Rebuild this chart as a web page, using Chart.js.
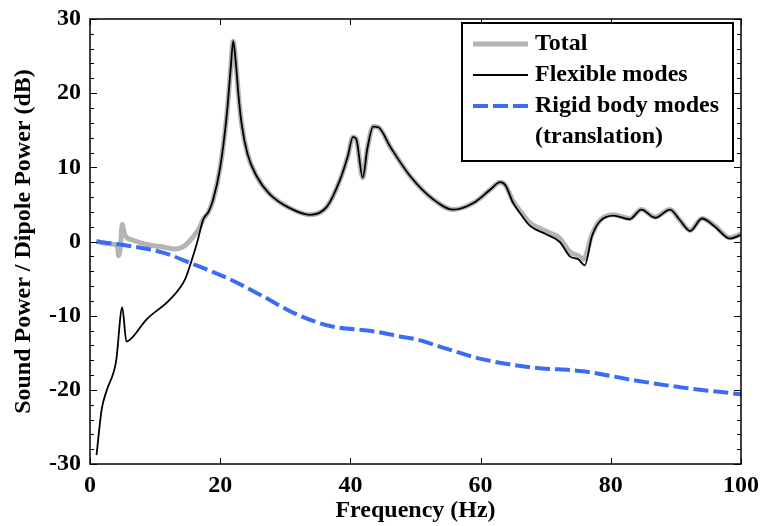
<!DOCTYPE html>
<html>
<head>
<meta charset="utf-8">
<title>Sound power ratio</title>
<script src="https://cdn.jsdelivr.net/npm/chart.js@4/dist/chart.umd.min.js"></script>
<style>
  html, body { margin: 0; padding: 0; background: #fff; }
  #wrap { width: 762px; height: 526px; }
</style>
</head>
<body>
<div id="wrap"><canvas id="powerChart" width="762" height="526"></canvas></div>
<script>
// ---- data ----
var totalFreq = [1.0, 3.0, 4.2, 4.4, 4.7, 4.95, 5.3, 5.7, 6.5, 8.7, 11.0, 13.0, 14.5, 15.9, 16.8, 17.4, 18.2,
  18.9, 20.0, 21.0, 21.6, 22.0, 22.4, 22.8, 23.3, 24.2, 25.6, 27.6, 30.7, 33.8, 36.4, 38.4, 39.6,
  40.4, 40.9, 41.9, 42.6, 43.5, 44.3, 46.1, 49.2, 52.7, 55.8, 58.9, 61.5, 63.0, 63.8, 65.0, 66.0, 67.6,
  70.0, 72.2, 73.7, 75.0, 75.8, 77.1, 78.3, 80.4, 82.9, 84.7, 86.8, 89.1, 90.5, 92.2, 94.0, 96.0, 98.3, 100];
var totalDb = [0.0, -0.3, -0.6, -1.9, -0.5, 2.3, 1.0, 0.5, 0.2, -0.4, -0.7, -1.0, -0.6, 0.7, 1.8, 3.0, 4.0,
  5.6, 10.0, 17.0, 23.2, 27.0, 24.1, 19.8, 15.8, 11.8, 8.8, 6.4, 4.5, 3.6, 4.7, 8.3, 11.5,
  14.1, 13.8, 8.6, 12.5, 15.5, 15.4, 12.8, 8.8, 5.7, 4.3, 5.2, 7.0, 8.0, 7.6, 5.4, 4.2, 2.5,
  1.4, 0.4, -1.4, -1.9, -2.4, 0.9, 2.8, 3.6, 3.1, 4.3, 3.3, 4.3, 3.0, 1.5, 3.1, 2.1, 0.5, 1.0];

var flexFreq = [1.0, 1.8, 2.6, 4.0, 4.95, 5.6, 6.2, 8.7, 12.3, 14.6, 15.6, 16.5, 17.4, 18.2,
  18.9, 20.0, 21.0, 21.6, 22.0, 22.4, 22.8, 23.3, 24.2, 25.6, 27.6, 30.7, 33.8, 36.4, 38.4, 39.6,
  40.4, 40.9, 41.9, 42.6, 43.5, 44.3, 46.1, 49.2, 52.7, 55.8, 58.9, 61.5, 63.0, 63.8, 65.0, 66.0, 67.6,
  70.0, 72.2, 73.7, 75.0, 76.0, 77.1, 78.3, 80.4, 82.9, 84.7, 86.8, 89.1, 90.5, 92.2, 94.0, 96.0, 98.3, 100];
var flexDb = [-28.8, -22.6, -20.0, -16.2, -8.9, -13.5, -13.2, -10.5, -7.8, -5.1, -2.6, 0.0, 3.0, 4.0,
  5.6, 10.0, 17.0, 23.2, 27.0, 24.1, 19.8, 15.8, 11.8, 8.8, 6.4, 4.5, 3.6, 4.7, 8.3, 11.5,
  14.1, 13.8, 8.6, 12.5, 15.5, 15.4, 12.8, 8.8, 5.7, 4.3, 5.2, 7.0, 8.0, 7.6, 5.2, 3.9, 2.1,
  1.0, -0.1, -2.0, -2.4, -3.2, 0.7, 2.7, 3.5, 3.0, 4.3, 3.2, 4.3, 3.0, 1.4, 3.1, 2.0, 0.4, 0.9];

var rigidFreq = [1.0, 6.1, 11.2, 15.4, 21.5, 26.6, 31.7, 36.9, 43.5, 47.6, 50.2, 54.2, 60.4, 68.1, 75.8, 83.5, 91.1, 100];
var rigidDb = [0.0, -0.6, -1.5, -2.9, -5.1, -7.4, -9.8, -11.4, -12.1, -12.8, -13.2, -14.3, -15.9, -17.0, -17.5, -18.7, -19.7, -20.6];

var xTicks = [0, 20, 40, 60, 80, 100];
var yTicks = [-30, -20, -10, 0, 10, 20, 30];

function pairs(xs, ys) {
  return xs.map(function (v, i) { return { x: v, y: ys[i] }; });
}

function noScalePadding(s) {
  s.paddingLeft = 0; s.paddingRight = 0; s.paddingTop = 0; s.paddingBottom = 0;
}

var serif = '"Liberation Serif", "Times New Roman", serif';

// inward tick marks and the box round the plot
var frameTicks = {
  id: "frameTicks",
  afterDatasetsDraw: function (chart) {
    var ctx = chart.ctx, a = chart.chartArea, x = chart.scales.x, y = chart.scales.y;
    ctx.save();
    ctx.strokeStyle = "#000";
    ctx.lineWidth = 1;
    ctx.beginPath();
    x.ticks.forEach(function (t) {
      var px = Math.round(x.getPixelForValue(t.value)) + 0.5;
      ctx.moveTo(px, a.bottom); ctx.lineTo(px, a.bottom - 6);
      ctx.moveTo(px, a.top); ctx.lineTo(px, a.top + 6);
    });
    for (var v = y.min; v <= y.max; v += 2) {
      var py = Math.round(y.getPixelForValue(v)) + 0.5;
      var len = (v % 10 === 0) ? 7 : 4;
      ctx.moveTo(a.left, py); ctx.lineTo(a.left + len, py);
      ctx.moveTo(a.right, py); ctx.lineTo(a.right - len, py);
    }
    ctx.stroke();
    ctx.lineWidth = 1.5;
    ctx.strokeRect(a.left, a.top, a.right - a.left, a.bottom - a.top);
    ctx.restore();
  }
};

// boxed legend in the upper right of the plot
var boxLegend = {
  id: "boxLegend",
  afterDraw: function (chart) {
    var ctx = chart.ctx, a = chart.chartArea;
    var w = 271, h = 138;
    var left = a.right - 8 - w, top = a.top + 4;
    ctx.save();
    ctx.fillStyle = "#fff";
    ctx.fillRect(left, top, w, h);
    ctx.strokeStyle = "#000";
    ctx.lineWidth = 2;
    ctx.strokeRect(left, top, w, h);
    ctx.font = "bold 24px " + serif;
    ctx.textBaseline = "middle";
    var rowY = top + 21;
    chart.data.datasets.forEach(function (ds) {
      ctx.strokeStyle = ds.borderColor;
      ctx.lineWidth = ds.borderWidth;
      ctx.setLineDash(ds.borderDash || []);
      ctx.beginPath();
      ctx.moveTo(left + 11, rowY);
      ctx.lineTo(left + 66, rowY);
      ctx.stroke();
      ctx.setLineDash([]);
      ctx.fillStyle = "#000";
      ds.label.split("\n").forEach(function (line) {
        ctx.fillText(line, left + 73, rowY);
        rowY += 31;
      });
    });
    ctx.restore();
  }
};

Chart.defaults.color = "#000";
Chart.defaults.font.family = serif;

new Chart(document.getElementById("powerChart"), {
  type: "line",
  data: {
    datasets: [
      {
        label: "Total",
        data: pairs(totalFreq, totalDb),
        borderColor: "#b4b4b4",
        borderWidth: 5,
        order: 3
      },
      {
        label: "Flexible modes",
        data: pairs(flexFreq, flexDb),
        borderColor: "#000",
        borderWidth: 1.8,
        order: 2
      },
      {
        label: "Rigid body modes\n(translation)",
        data: pairs(rigidFreq, rigidDb),
        borderColor: "#3b6cf6",
        borderWidth: 4,
        borderDash: [15, 5],
        order: 1
      }
    ]
  },
  options: {
    responsive: false,
    animation: false,
    devicePixelRatio: 1,
    layout: { padding: { top: 19, right: 21, left: 0, bottom: 0 } },
    elements: {
      point: { radius: 0 },
      line: { cubicInterpolationMode: "monotone", fill: false }
    },
    plugins: {
      legend: { display: false },
      tooltip: { enabled: false }
    },
    scales: {
      x: {
        type: "linear",
        min: 0,
        max: 100,
        afterBuildTicks: function (s) { s.ticks = xTicks.map(function (v) { return { value: v }; }); },
        afterFit: function (s) { s.height = 62; noScalePadding(s); },
        grid: { display: false, drawTicks: false },
        border: { display: false },
        ticks: { padding: 7, maxRotation: 0, font: { size: 24, weight: "bold" } },
        title: {
          display: true,
          text: "Frequency (Hz)",
          padding: { top: 0, bottom: 1 },
          font: { size: 24, weight: "bold" }
        }
      },
      y: {
        type: "linear",
        min: -30,
        max: 30,
        afterBuildTicks: function (s) { s.ticks = yTicks.map(function (v) { return { value: v }; }); },
        afterFit: function (s) { s.width = 90; noScalePadding(s); },
        grid: { display: false, drawTicks: false },
        border: { display: false },
        ticks: { padding: 9, font: { size: 24, weight: "bold" } },
        title: {
          display: true,
          text: "Sound Power / Dipole Power (dB)",
          padding: { top: 9, bottom: 0 },
          font: { size: 24, weight: "bold" }
        }
      }
    }
  },
  plugins: [frameTicks, boxLegend]
});
</script>
</body>
</html>
